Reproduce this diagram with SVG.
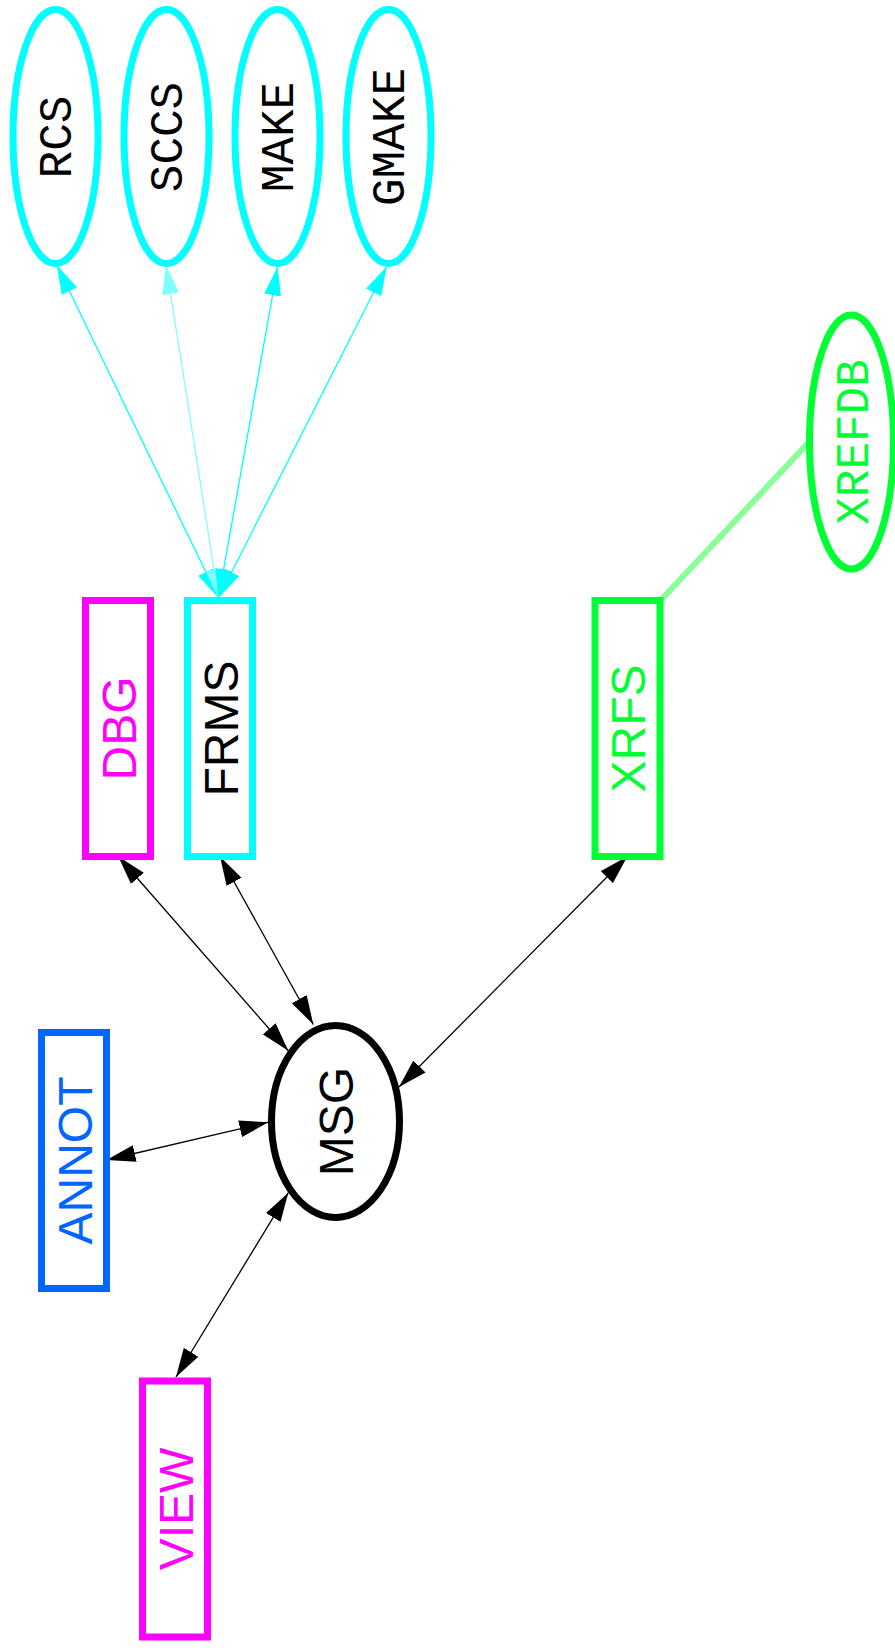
<svg xmlns="http://www.w3.org/2000/svg" width="895" height="1650" viewBox="0 0 895 1650">
<style>
.sans{font-family:"Liberation Sans",Arial,sans-serif;font-size:48px;text-anchor:middle}
.mono{font-family:"Liberation Mono","Courier New",monospace;font-size:46px;text-anchor:middle}
.box{fill:#fff;stroke-width:7}
.ell{fill:#fff;stroke-width:7}
.e{fill:none;stroke-width:1.3}
</style>
<defs>
<marker id="ab" markerUnits="userSpaceOnUse" markerWidth="30" markerHeight="18" refX="29" refY="9" orient="auto-start-reverse" viewBox="0 0 30 18"><path d="M0,0.5 L29,9 L0,17.5 Z" fill="#000"/></marker>
<marker id="ac" markerUnits="userSpaceOnUse" markerWidth="30" markerHeight="18" refX="29" refY="9" orient="auto-start-reverse" viewBox="0 0 30 18"><path d="M0,0.5 L29,9 L0,17.5 Z" fill="#00ffff"/></marker>
<marker id="ap" markerUnits="userSpaceOnUse" markerWidth="30" markerHeight="18" refX="29" refY="9" orient="auto-start-reverse" viewBox="0 0 30 18"><path d="M0,0.5 L29,9 L0,17.5 Z" fill="#80ffff"/></marker>
</defs>
<rect width="895" height="1650" fill="#fff"/>
<g id="edges">
<line class="e" x1="218.5" y1="598" x2="56.7" y2="265" stroke="#00ffff" marker-start="url(#ac)" marker-end="url(#ac)"/>
<line class="e" x1="218.5" y1="598" x2="166" y2="265" stroke="#80ffff" marker-start="url(#ap)" marker-end="url(#ap)"/>
<line class="e" x1="218.5" y1="598" x2="277.7" y2="266.5" stroke="#00ffff" marker-start="url(#ac)" marker-end="url(#ac)"/>
<line class="e" x1="218.5" y1="598" x2="386.7" y2="266.5" stroke="#00ffff" marker-start="url(#ac)" marker-end="url(#ac)"/>
<line class="e" x1="118.3" y1="856.5" x2="288.3" y2="1050.7" stroke="#000" marker-start="url(#ab)" marker-end="url(#ab)"/>
<line class="e" x1="220" y1="856.5" x2="313.3" y2="1024.5" stroke="#000" marker-start="url(#ab)" marker-end="url(#ab)"/>
<line class="e" x1="627.3" y1="856.5" x2="399" y2="1087" stroke="#000" marker-start="url(#ab)" marker-end="url(#ab)"/>
<line class="e" x1="106.5" y1="1160" x2="268.3" y2="1122.2" stroke="#000" marker-start="url(#ab)" marker-end="url(#ab)"/>
<line class="e" x1="176" y1="1377" x2="288.3" y2="1192.7" stroke="#000" marker-start="url(#ab)" marker-end="url(#ab)"/>
<line x1="660" y1="601" x2="810" y2="441" stroke="#88ff99" stroke-width="6"/>
</g>
<g id="RCS"><ellipse class="ell" cx="55.5" cy="136.5" rx="42.5" ry="127" stroke="#00ffff"/><text class="mono" transform="translate(71,137) rotate(-90)">RCS</text></g>
<g id="SCCS"><ellipse class="ell" cx="166.5" cy="136.5" rx="42.5" ry="127" stroke="#00ffff"/><text class="mono" transform="translate(182,137) rotate(-90)">SCCS</text></g>
<g id="MAKE"><ellipse class="ell" cx="277.5" cy="136.5" rx="42.5" ry="127" stroke="#00ffff"/><text class="mono" transform="translate(293,137) rotate(-90)">MAKE</text></g>
<g id="GMAKE"><ellipse class="ell" cx="388.5" cy="136.5" rx="42.5" ry="127" stroke="#00ffff"/><text class="mono" transform="translate(404,137) rotate(-90)">GMAKE</text></g>
<g id="XREFDB"><ellipse class="ell" cx="851.5" cy="442" rx="42" ry="127" stroke="#00ff33"/><text class="mono" fill="#00ff33" transform="translate(868,442) rotate(-90)">XREFDB</text></g>
<g id="DBG"><rect class="box" x="85.5" y="600.5" width="65" height="256" stroke="#ff00ff"/><text class="sans" fill="#ff00ff" transform="translate(135.5,728.5) rotate(-90)">DBG</text></g>
<g id="FRMS"><rect class="box" x="187.5" y="600.5" width="65" height="256" stroke="#00ffff"/><text class="sans" fill="#000" transform="translate(237.5,728.5) rotate(-90)">FRMS</text></g>
<g id="XRFS"><rect class="box" x="595" y="600.5" width="65" height="256" stroke="#00ff33"/><text class="sans" fill="#00ff33" transform="translate(645,728.5) rotate(-90)">XRFS</text></g>
<g id="MSG"><ellipse class="ell" cx="335.5" cy="1121.5" rx="64" ry="96" stroke="#000"/><text class="sans" fill="#000" transform="translate(353,1121.5) rotate(-90)">MSG</text></g>
<g id="ANNOT"><rect class="box" x="41.5" y="1032.5" width="65" height="256" stroke="#0066ff"/><text class="sans" fill="#0066ff" transform="translate(91.5,1160.5) rotate(-90)">ANNOT</text></g>
<g id="VIEW"><rect class="box" x="142.5" y="1381" width="65" height="256" stroke="#ff00ff"/><text class="sans" fill="#ff00ff" transform="translate(192.5,1509) rotate(-90)">VIEW</text></g>
</svg>
